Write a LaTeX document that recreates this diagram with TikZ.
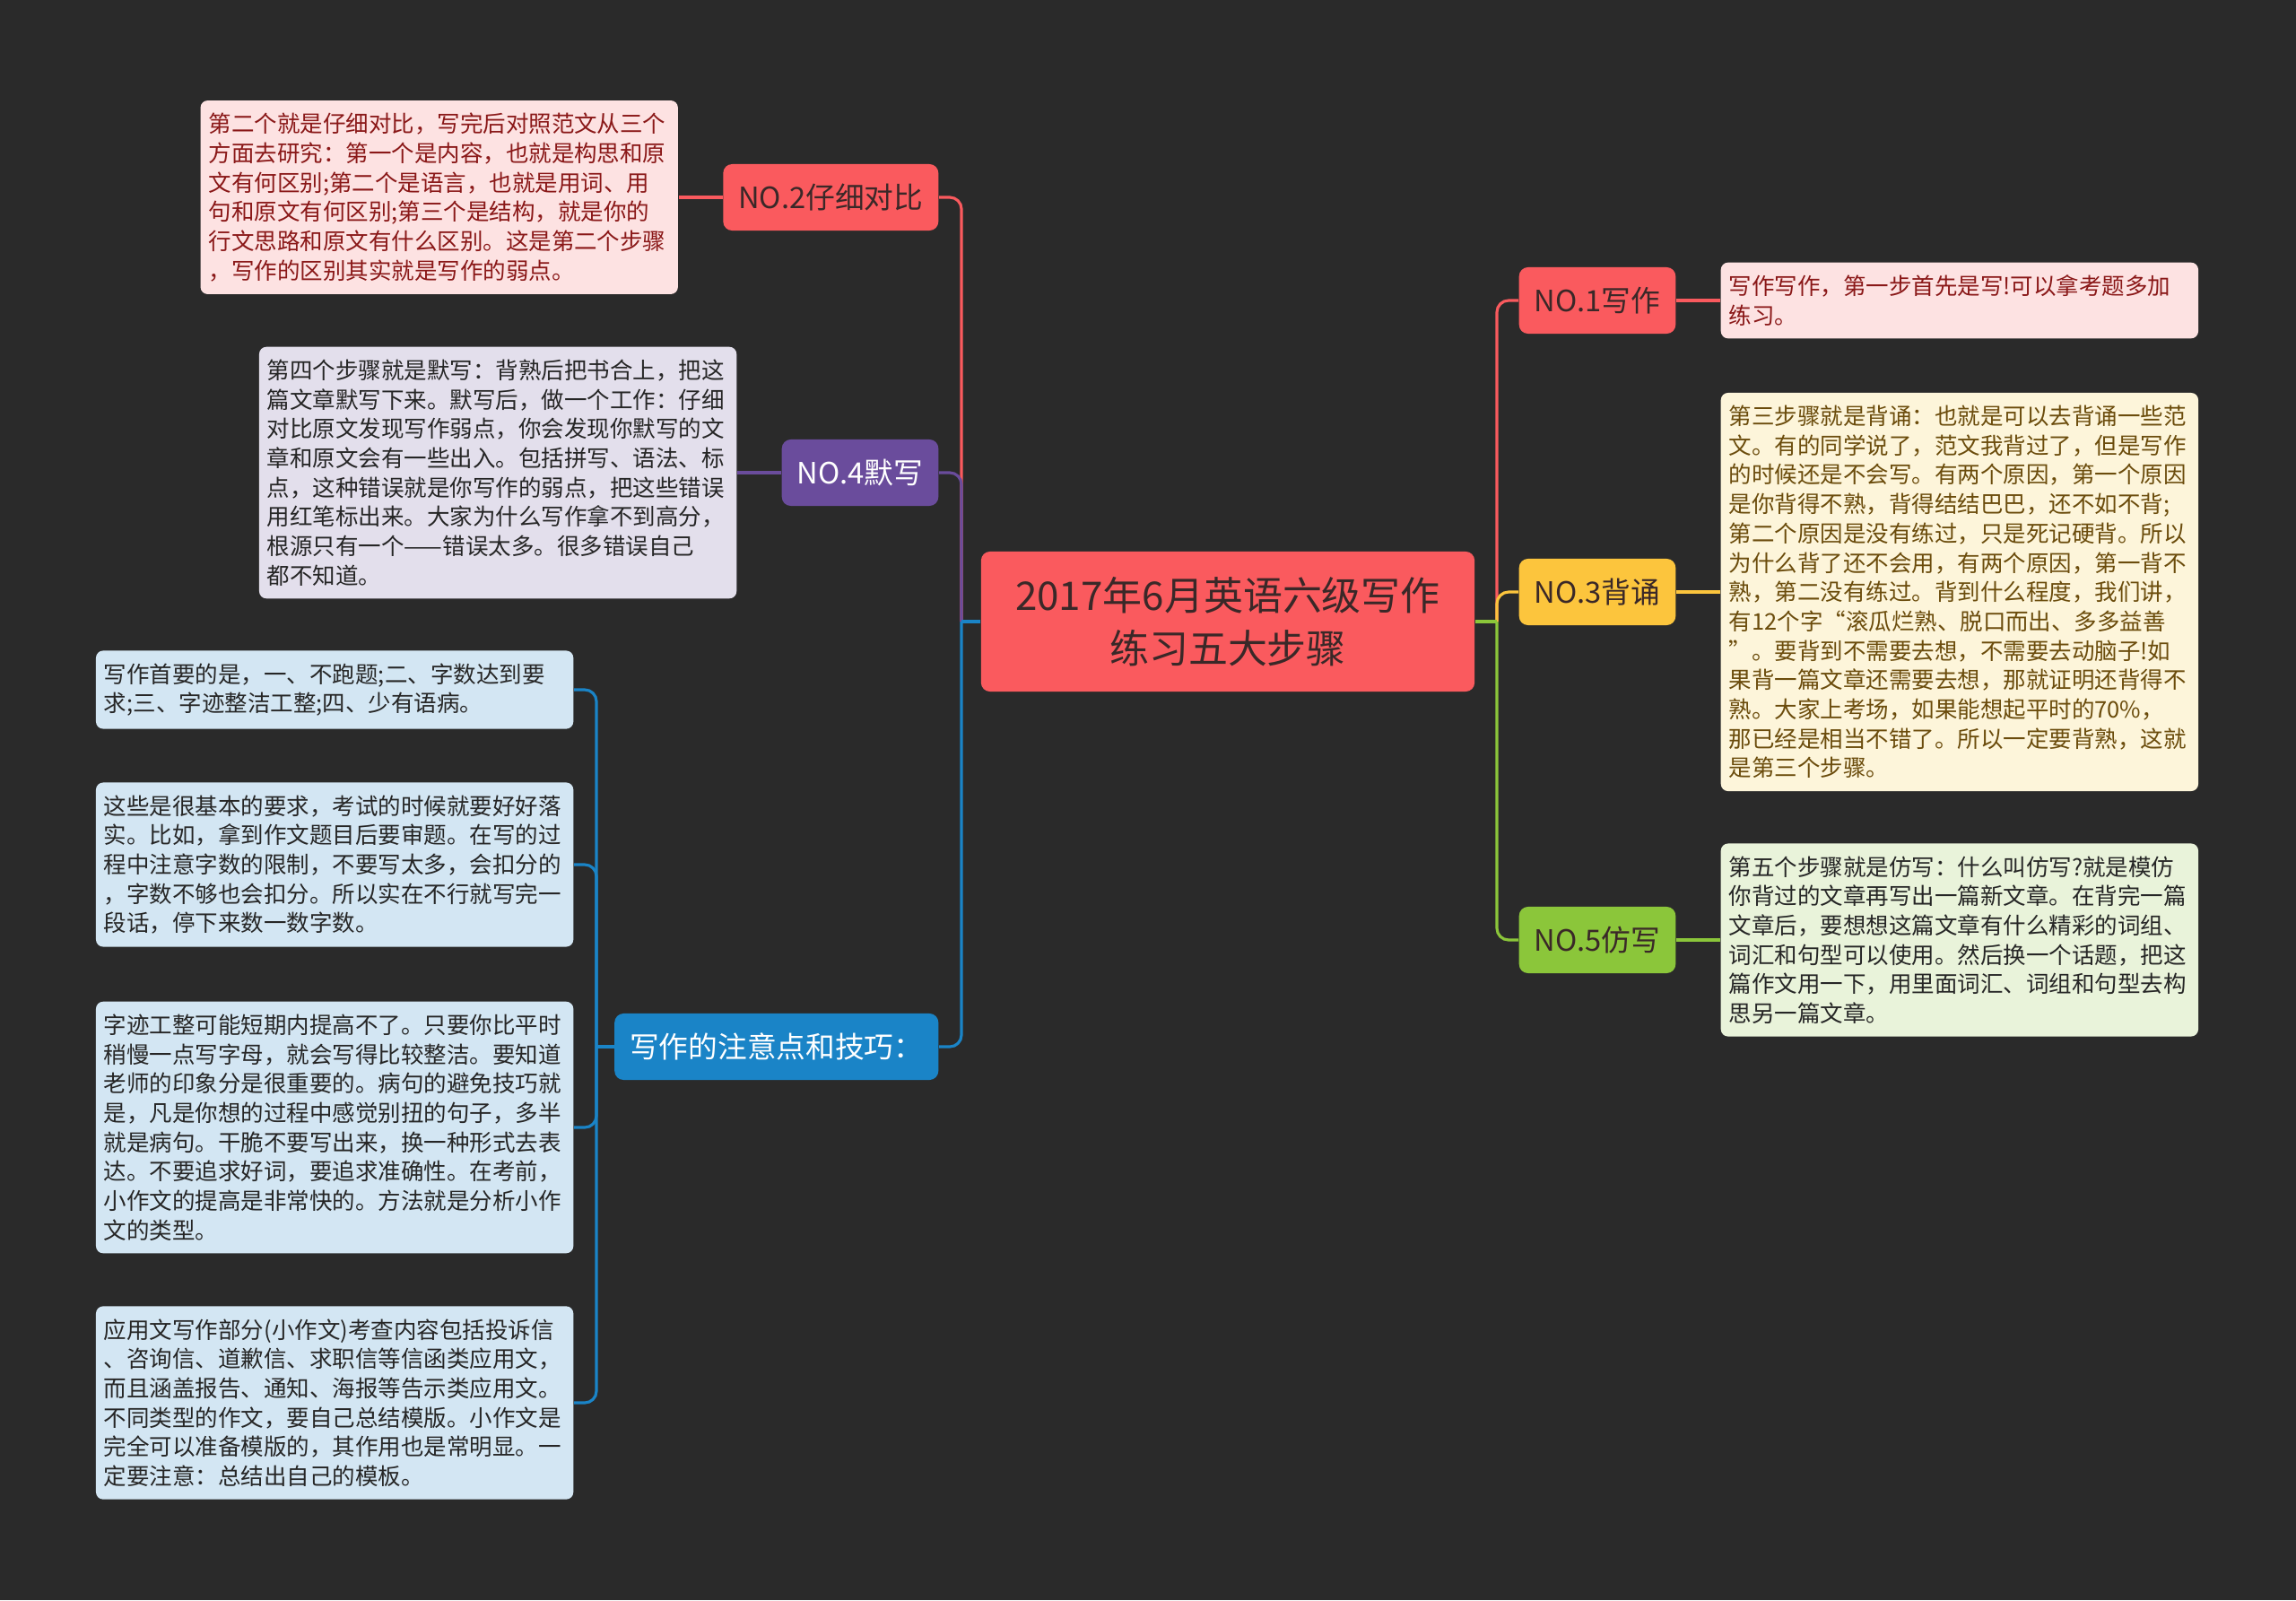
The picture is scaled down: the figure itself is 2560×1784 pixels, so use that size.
\documentclass[tikz,border=0pt]{standalone}
\usepackage{fontspec}
\setmainfont{Noto Sans CJK SC}
\usepackage{tikz}
\usetikzlibrary{positioning}

\definecolor{bgdark}{HTML}{2A2A2A}
\definecolor{coral}{HTML}{FA5A5E}
\definecolor{grape}{HTML}{6A4C9C}
\definecolor{ocean}{HTML}{1A84C7}
\definecolor{amber}{HTML}{FCC53D}
\definecolor{lime}{HTML}{8BC63A}
\definecolor{darkink}{HTML}{3A2828}
\definecolor{pinkbg}{HTML}{FDE2E2}
\definecolor{pinkink}{HTML}{8A1818}
\definecolor{lilacbg}{HTML}{E3DFEC}
\definecolor{skybg}{HTML}{D3E6F3}
\definecolor{creambg}{HTML}{FDF5DA}
\definecolor{creamink}{HTML}{6B4C0C}
\definecolor{mintbg}{HTML}{E9F3DA}
\definecolor{noteink}{HTML}{262626}

\begin{document}
\begin{tikzpicture}[
    x=0.01cm, y=-0.01cm,
    hub/.style={fill=coral, text=darkink, rounded corners=0.1cm, align=center,
        minimum width=5.5cm, minimum height=1.56cm, font=\fontsize{12.5}{16.8}\selectfont},
    topic/.style={rounded corners=0.1cm, inner xsep=0.17cm, inner ysep=0cm,
        minimum height=0.74cm, font=\fontsize{9.3}{11}\selectfont},
    note/.style={rounded corners=0.08cm, align=left, text width=5.14cm, inner xsep=0.09cm,
        inner ysep=0.14cm, text=noteink, font=\fontsize{7.25}{9.3}\selectfont},
    link/.style={line width=0.9pt},
    elbow/.style={link, rounded corners=0.13cm}
]

\fill[bgdark] (0,0) rectangle (2560,1784);

\node[hub] (root) at (1369,693) {2017年6月英语六级写作\\练习五大步骤};

\node[topic, fill=coral, text=darkink, anchor=east] (no2) at (1047,220) {NO.2仔细对比};
\node[topic, fill=grape, text=white, anchor=east] (no4) at (1047,527) {NO.4默写};
\node[topic, fill=ocean, text=white, anchor=east] (tips) at (1047,1167) {写作的注意点和技巧：};
\node[topic, fill=coral, text=darkink, anchor=west] (no1) at (1693,335) {NO.1写作};
\node[topic, fill=amber, text=darkink, anchor=west] (no3) at (1693,660) {NO.3背诵};
\node[topic, fill=lime, text=darkink, anchor=west] (no5) at (1693,1048) {NO.5仿写};

\node[note, fill=pinkbg, text=pinkink, left=0.49cm of no2] (no2txt) {第二个就是仔细对比，写完后对照范文从三个\\
方面去研究：第一个是内容，也就是构思和原\\
文有何区别;第二个是语言，也就是用词、用\\
句和原文有何区别;第三个是结构，就是你的\\
行文思路和原文有什么区别。这是第二个步骤\\
，写作的区别其实就是写作的弱点。};

\node[note, fill=lilacbg, left=0.49cm of no4] (no4txt) {第四个步骤就是默写：背熟后把书合上，把这\\
篇文章默写下来。默写后，做一个工作：仔细\\
对比原文发现写作弱点，你会发现你默写的文\\
章和原文会有一些出入。包括拼写、语法、标\\
点，这种错误就是你写作的弱点，把这些错误\\
用红笔标出来。大家为什么写作拿不到高分，\\
根源只有一个——错误太多。很多错误自己\\
都不知道。};

\node[note, fill=skybg, anchor=east] (t1) at (640,769) {写作首要的是，一、不跑题;二、字数达到要\\
求;三、字迹整洁工整;四、少有语病。};

\node[note, fill=skybg, anchor=east] (t2) at (640,964) {这些是很基本的要求，考试的时候就要好好落\\
实。比如，拿到作文题目后要审题。在写的过\\
程中注意字数的限制，不要写太多，会扣分的\\
，字数不够也会扣分。所以实在不行就写完一\\
段话，停下来数一数字数。};

\node[note, fill=skybg, anchor=east] (t3) at (640,1257) {字迹工整可能短期内提高不了。只要你比平时\\
稍慢一点写字母，就会写得比较整洁。要知道\\
老师的印象分是很重要的。病句的避免技巧就\\
是，凡是你想的过程中感觉别扭的句子，多半\\
就是病句。干脆不要写出来，换一种形式去表\\
达。不要追求好词，要追求准确性。在考前，\\
小作文的提高是非常快的。方法就是分析小作\\
文的类型。};

\node[note, fill=skybg, anchor=east] (t4) at (640,1564) {应用文写作部分(小作文)考查内容包括投诉信\\
、咨询信、道歉信、求职信等信函类应用文，\\
而且涵盖报告、通知、海报等告示类应用文。\\
不同类型的作文，要自己总结模版。小作文是\\
完全可以准备模版的，其作用也是常明显。一\\
定要注意：总结出自己的模板。};

\node[note, fill=pinkbg, text=pinkink, right=0.49cm of no1] (no1txt) {写作写作，第一步首先是写!可以拿考题多加\\
练习。};

\node[note, fill=creambg, text=creamink, right=0.49cm of no3] (no3txt) {第三步骤就是背诵：也就是可以去背诵一些范\\
文。有的同学说了，范文我背过了，但是写作\\
的时候还是不会写。有两个原因，第一个原因\\
是你背得不熟，背得结结巴巴，还不如不背;\\
第二个原因是没有练过，只是死记硬背。所以\\
为什么背了还不会用，有两个原因，第一背不\\
熟，第二没有练过。背到什么程度，我们讲，\\
有12个字“滚瓜烂熟、脱口而出、多多益善\\
”。要背到不需要去想，不需要去动脑子!如\\
果背一篇文章还需要去想，那就证明还背得不\\
熟。大家上考场，如果能想起平时的70\%，\\
那已经是相当不错了。所以一定要背熟，这就\\
是第三个步骤。};

\node[note, fill=mintbg, right=0.49cm of no5] (no5txt) {第五个步骤就是仿写：什么叫仿写?就是模仿\\
你背过的文章再写出一篇新文章。在背完一篇\\
文章后，要想想这篇文章有什么精彩的词组、\\
词汇和句型可以使用。然后换一个话题，把这\\
篇作文用一下，用里面词汇、词组和句型去构\\
思另一篇文章。};

\coordinate (jl) at (1072,693);
\coordinate (jr) at (1669,693);
\coordinate (jt) at (665,1167);

\draw[elbow, coral] (jl) |- (no2.east);
\draw[elbow, grape] (jl) |- (no4.east);
\draw[elbow, ocean] (jl) |- (tips.east);
\draw[link, ocean] (root.west) -- (jl);

\draw[elbow, coral] (jr) |- (no1.west);
\draw[elbow, amber] (jr) |- (no3.west);
\draw[elbow, lime] (jr) |- (no5.west);
\draw[link, lime] (root.east) -- (jr);

\draw[link, coral] (no2.west) -- (no2txt.east);
\draw[link, grape] (no4.west) -- (no4txt.east);
\draw[link, coral] (no1.east) -- (no1txt.west);
\draw[link, amber] (no3.east) -- (no3txt.west);
\draw[link, lime] (no5.east) -- (no5txt.west);

\foreach \leaf in {t1,t2,t3,t4}
    \draw[elbow, ocean] (jt) |- (\leaf.east);
\draw[link, ocean] (tips.west) -- (jt);

\end{tikzpicture}
\end{document}
